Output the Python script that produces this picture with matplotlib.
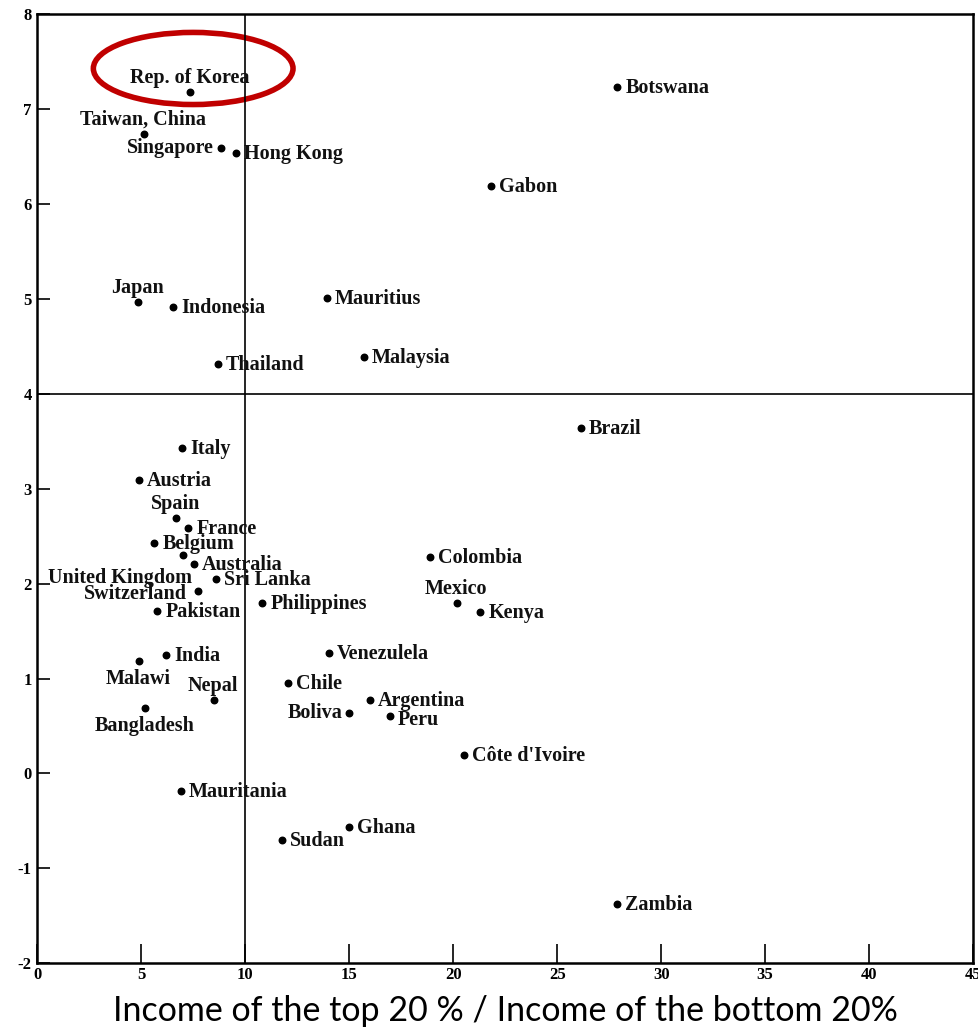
import matplotlib
matplotlib.use("Agg")
import matplotlib.pyplot as plt
from matplotlib.patches import Ellipse

# countries, income ratio (x), growth (y), label placement
countries = ["Rep. of Korea", "Taiwan, China", "Singapore", "Hong Kong", "Botswana",
             "Gabon", "Japan", "Indonesia", "Mauritius", "Thailand", "Malaysia",
             "Brazil", "Italy", "Austria", "Spain", "France", "Belgium",
             "United Kingdom", "Australia", "Sri Lanka", "Switzerland", "Pakistan",
             "Philippines", "India", "Malawi", "Nepal", "Bangladesh", "Mauritania",
             "Colombia", "Mexico", "Kenya", "Venezulela", "Chile", "Boliva",
             "Argentina", "Peru", "Côte d'Ivoire", "Ghana", "Sudan", "Zambia"]
ratio = [7.36, 5.14, 8.85, 9.57, 27.9,
         21.8, 4.86, 6.54, 13.94, 8.7, 15.7,
         26.15, 6.97, 4.9, 6.68, 7.26, 5.63,
         7.02, 7.55, 8.6, 7.74, 5.77,
         10.82, 6.2, 4.9, 8.51, 5.19, 6.92,
         18.9, 20.2, 21.3, 14.04, 12.07, 15.0,
         16.0, 16.97, 20.5, 15.0, 11.78, 27.9]
growth = [7.18, 6.74, 6.59, 6.54, 7.23,
          6.19, 4.97, 4.92, 5.01, 4.32, 4.39,
          3.64, 3.43, 3.09, 2.69, 2.59, 2.43,
          2.30, 2.21, 2.05, 1.92, 1.71,
          1.80, 1.25, 1.19, 0.77, 0.69, -0.18,
          2.28, 1.80, 1.70, 1.27, 0.95, 0.64,
          0.77, 0.61, 0.19, -0.56, -0.70, -1.38]
# r = right of dot, l = left, a = above, b = below, u = under-left, d = right and lower
place = ["a", "a", "l", "r", "r",
         "r", "a", "r", "r", "r", "r",
         "r", "r", "r", "a", "r", "r",
         "u", "r", "r", "l", "r",
         "r", "r", "b", "a", "b", "r",
         "r", "a", "r", "r", "r", "l",
         "r", "d", "r", "r", "r", "r"]

xticks = [0, 5, 10, 15, 20, 25, 30, 35, 40, 45]
yticks = [-2, -1, 0, 1, 2, 3, 4, 5, 6, 7, 8]

serif = {"family": "Liberation Serif", "weight": "bold"}
offsets = {
    "r": ((8, -1), "left"),
    "d": ((8, -4), "left"),
    "l": ((-7, 0), "right"),
    "a": ((-1, 14), "center"),
    "b": ((-1, -18), "center"),
    "u": ((9, -23), "right"),
}

fig = plt.figure(figsize=(9.79, 10.28), dpi=100)
ax = fig.add_axes([0.038, 0.063, 0.956, 0.923])
ax.set_xlim(0, 45)
ax.set_ylim(-2, 8)

ax.axvline(10, color="black", lw=1.2)
ax.axhline(4, color="black", lw=1.2)

ax.scatter(ratio, growth, s=22, color="black", zorder=3)

for name, x, y, p in zip(countries, ratio, growth, place):
    off, ha = offsets[p]
    if name == "Switzerland":
        off = (-11, -3)
    ax.annotate(name, (x, y), xytext=off, textcoords="offset pixels",
                ha=ha, va="center", fontsize=14.5, color="#111111", **serif)

ax.add_patch(Ellipse((7.5, 7.43), 9.6, 0.76, fill=False, edgecolor="#c00000", lw=4))

ax.set_xticks(xticks)
ax.set_yticks(yticks)
ax.set_xticklabels([str(t) for t in xticks], fontsize=12, **serif)
ax.set_yticklabels([str(t) for t in yticks], fontsize=12, **serif)
ax.tick_params(axis="x", direction="in", length=14, width=1.2, pad=3)
ax.tick_params(axis="y", direction="in", length=9, width=1.2, pad=4)
for s in ax.spines.values():
    s.set_linewidth(1.8)

ax.set_xlabel("Income of the top 20 % / Income of the bottom 20%",
              family="Lato", fontsize=24.5, labelpad=8)

fig.savefig("out.png", dpi=100)
